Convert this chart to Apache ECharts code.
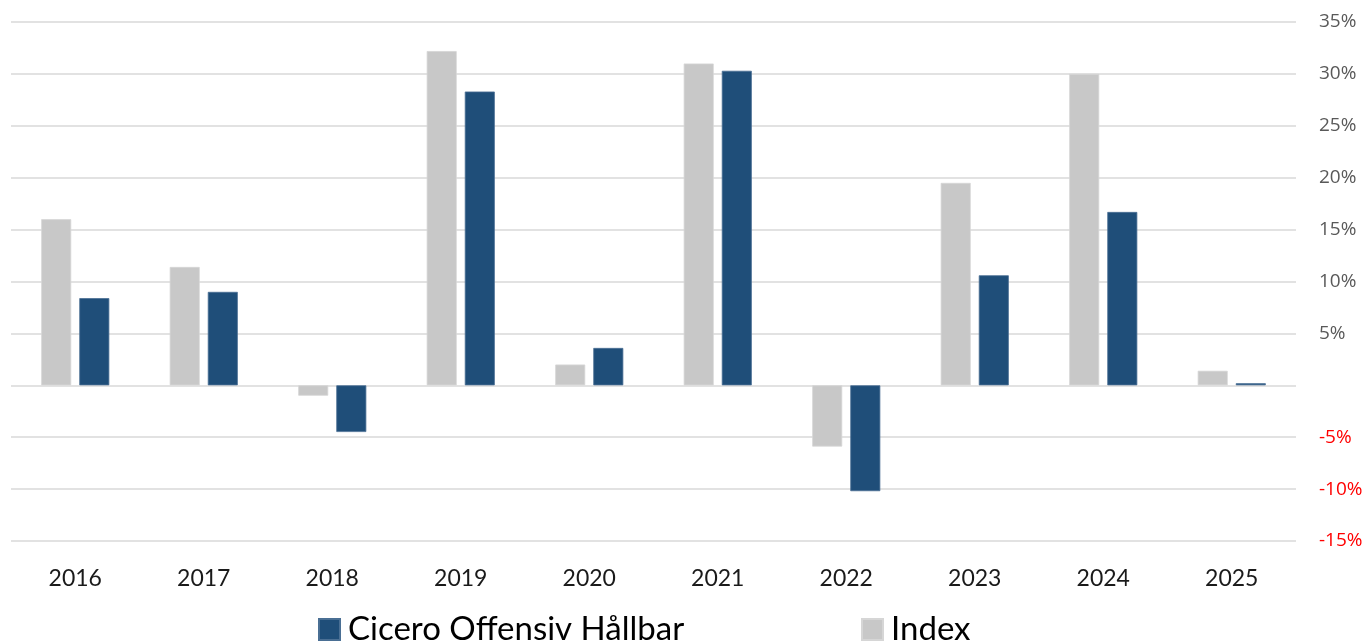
<!DOCTYPE html>
<html>
<head>
<meta charset="utf-8">
<script src="https://cdn.jsdelivr.net/npm/echarts@6/dist/echarts.min.js"></script>
<style>
html,body{margin:0;padding:0;background:#fff;}
#chart{width:1368px;height:641px;}
</style>
</head>
<body>
<div id="chart"></div>
<script>
const categories = ['2016','2017','2018','2019','2020','2021','2022','2023','2024','2025'];
const indexValues = [16.0, 11.4, -1.0, 32.2, 2.0, 31.0, -5.9, 19.5, 30.0, 1.4];
const ciceroValues = [8.4, 9.0, -4.5, 28.3, 3.6, 30.3, -10.2, 10.6, 16.7, 0.2];
const seriesNames = ['Index', 'Cicero Offensiv Hållbar'];

const chart = echarts.init(document.getElementById('chart'));
chart.setOption({
  animation: false,
  backgroundColor: '#ffffff',
  grid: { left: 11, right: 72, top: 22, bottom: 100, containLabel: false },
  legend: [
    {
      data: [seriesNames[1]], left: 313, top: 608, icon: 'rect', itemWidth: 21, itemHeight: 21,
      textStyle: { fontFamily: 'Lato', fontSize: 33, color: '#000', padding: [0,0,0,3] }
    },
    {
      data: [seriesNames[0]], left: 856, top: 608, icon: 'rect', itemWidth: 21, itemHeight: 21,
      textStyle: { fontFamily: 'Lato', fontSize: 33, color: '#000', padding: [0,0,0,3] }
    }
  ],
  xAxis: {
    type: 'category',
    data: categories,
    axisLine: { show: false },
    axisTick: { show: false },
    axisLabel: { fontFamily: 'Lato', fontSize: 23, color: '#1a1a1a', margin: 26 }
  },
  yAxis: {
    type: 'value',
    position: 'right',
    min: -15, max: 35, interval: 5,
    axisLine: { show: false },
    axisTick: { show: false },
    splitLine: { lineStyle: { color: '#d9d9d9', width: 1.5 } },
    axisLabel: {
      margin: 23,
      fontFamily: 'Open Sans', fontSize: 19,
      formatter: v => v === 0 ? '' : v + '%',
      color: v => (v < 0 ? '#ff0000' : '#595959')
    }
  },
  series: [
    {
      name: seriesNames[0], type: 'bar', data: indexValues,
      barWidth: 30, barGap: '27%',
      itemStyle: { color: '#c8c8c8', borderColor: '#d6d6d6', borderWidth: 0.8 }
    },
    {
      name: seriesNames[1], type: 'bar', data: ciceroValues,
      barWidth: 30,
      itemStyle: { color: '#1f4e79', borderColor: '#4a6f94', borderWidth: 0.8 }
    }
  ]
});
</script>
</body>
</html>
